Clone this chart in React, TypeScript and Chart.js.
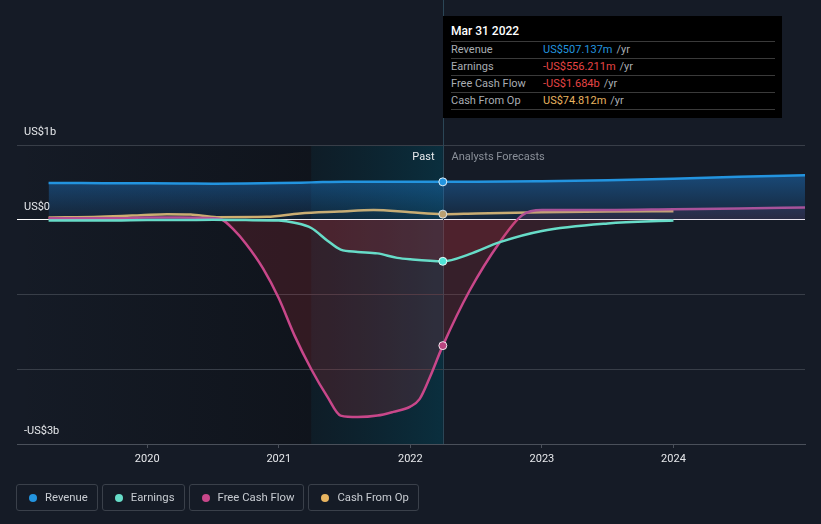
import { useEffect, useRef } from "react";
import { Chart, registerables } from "chart.js";

Chart.register(...registerables);

const BOUNDARY = 2022.247;
const HIGHLIGHT_START = 2021.247;

const revenueYears = [2019.25, 2019.5, 2019.75, 2020.0, 2020.25, 2020.5, 2020.75, 2021.0, 2021.25, 2021.5, 2021.75, 2022.0, 2022.247, 2022.5, 2023.0, 2023.5, 2024.0, 2024.5, 2025.0];
const revenueValues = [0.49, 0.49, 0.489, 0.488, 0.486, 0.482, 0.484, 0.49, 0.5, 0.51, 0.51, 0.51, 0.507, 0.507, 0.515, 0.53, 0.55, 0.575, 0.595];

const earningsYears = [2019.25, 2019.5, 2019.75, 2020.0, 2020.25, 2020.5, 2020.75, 2021.0, 2021.12, 2021.247, 2021.37, 2021.47, 2021.6, 2021.75, 2021.9, 2022.0, 2022.247, 2022.45, 2022.68, 2023.0, 2023.5, 2024.0];
const earningsValues = [-0.01, -0.01, -0.01, -0.005, -0.005, 0.0, -0.005, -0.01, -0.04, -0.11, -0.28, -0.4, -0.43, -0.45, -0.51, -0.53, -0.556, -0.46, -0.3, -0.15, -0.05, -0.01];

const fcfYears = [2019.25, 2019.75, 2020.0, 2020.25, 2020.5, 2020.57, 2020.65, 2020.75, 2020.88, 2021.0, 2021.12, 2021.247, 2021.37, 2021.47, 2021.6, 2021.75, 2021.87, 2022.0, 2022.07, 2022.15, 2022.247, 2022.45, 2022.68, 2022.85, 2023.0, 2023.5, 2024.0, 2024.5, 2025.0];
const fcfValues = [0.02, 0.02, 0.03, 0.03, 0.02, 0.0, -0.12, -0.32, -0.65, -1.05, -1.55, -2.0, -2.37, -2.62, -2.64, -2.62, -2.57, -2.5, -2.4, -2.1, -1.684, -0.95, -0.3, 0.06, 0.13, 0.13, 0.14, 0.15, 0.165];

const cfoYears = [2019.25, 2019.64, 2019.95, 2020.15, 2020.33, 2020.53, 2020.91, 2021.16, 2021.46, 2021.72, 2022.0, 2022.247, 2022.5, 2023.0, 2023.5, 2024.0];
const cfoValues = [0.03, 0.04, 0.06, 0.075, 0.07, 0.035, 0.04, 0.085, 0.11, 0.13, 0.1, 0.075, 0.085, 0.1, 0.11, 0.115];

const xTicks = [2020, 2021, 2022, 2023, 2024];
const yLabels: Record<number, string> = { 1: "US$1b", 0: "US$0", [-3]: "-US$3b" };

const legendItems = [
  { label: "Revenue", color: "#2394df" },
  { label: "Earnings", color: "#67dcc8" },
  { label: "Free Cash Flow", color: "#c8478a" },
  { label: "Cash From Op", color: "#e8b460" },
];

const tooltipRows = [
  { label: "Revenue", value: "US$507.137m", color: "#2394df" },
  { label: "Earnings", value: "-US$556.211m", color: "#e64545" },
  { label: "Free Cash Flow", value: "-US$1.684b", color: "#e64545" },
  { label: "Cash From Op", value: "US$74.812m", color: "#e8b460" },
];

const FONT = "Roboto, 'Noto Sans', sans-serif";

function pts(xs: number[], ys: number[]) {
  return xs.map((x, i) => ({ x, y: ys[i] }));
}

const pointR = (c: any) => (c.raw && Math.abs(c.raw.x - BOUNDARY) < 1e-6 ? 4 : 0);

const bgPlugin = {
  id: "bgPlugin",
  beforeDraw(chart: any) {
    const { ctx, chartArea: a, scales } = chart;
    const xs = scales.x;
    ctx.save();
    ctx.fillStyle = "#151b26";
    ctx.fillRect(0, 0, chart.width, chart.height);
    const hx0 = xs.getPixelForValue(HIGHLIGHT_START);
    const bx = xs.getPixelForValue(BOUNDARY);
    let g = ctx.createLinearGradient(a.left, 0, hx0, 0);
    g.addColorStop(0, "rgba(10,13,18,0)");
    g.addColorStop(1, "rgba(10,13,18,0.5)");
    ctx.fillStyle = g;
    ctx.fillRect(a.left, a.top, hx0 - a.left, a.bottom - a.top);
    g = ctx.createLinearGradient(hx0, 0, bx, 0);
    g.addColorStop(0, "rgba(10,30,40,0.6)");
    g.addColorStop(1, "rgba(8,50,66,0.85)");
    ctx.fillStyle = g;
    ctx.fillRect(hx0, a.top, bx - hx0, a.bottom - a.top);
    ctx.restore();
  },
  beforeDatasetsDraw(chart: any) {
    const { ctx, chartArea: a, scales } = chart;
    const bx = Math.round(scales.x.getPixelForValue(BOUNDARY)) + 0.5;
    ctx.save();
    ctx.strokeStyle = "#2b4656";
    ctx.lineWidth = 1;
    ctx.beginPath();
    ctx.moveTo(bx, 0);
    ctx.lineTo(bx, a.bottom);
    ctx.stroke();
    ctx.font = `11px ${FONT}`;
    ctx.textBaseline = "middle";
    ctx.textAlign = "right";
    ctx.fillStyle = "#e8eaed";
    ctx.fillText("Past", bx - 9, a.top + 12);
    ctx.textAlign = "left";
    ctx.fillStyle = "#8a9099";
    ctx.fillText("Analysts Forecasts", bx + 8, a.top + 12);
    ctx.restore();
  },
};

export default function App() {
  const ref = useRef<HTMLCanvasElement | null>(null);

  useEffect(() => {
    if (!ref.current) return;
    const revGrad = (c: any) => {
      const ch = c.chart;
      const a = ch.chartArea;
      if (!a) return "rgba(33,150,243,0.2)";
      const y = ch.scales.y;
      const g = ch.ctx.createLinearGradient(0, y.getPixelForValue(0.55), 0, y.getPixelForValue(0));
      g.addColorStop(0, "rgba(30,130,220,0.42)");
      g.addColorStop(1, "rgba(30,130,220,0.1)");
      return g;
    };
    const chart = new Chart(ref.current, {
      type: "line",
      data: {
        datasets: [
          {
            label: "Revenue",
            data: pts(revenueYears, revenueValues),
            borderColor: "#2394df",
            borderWidth: 2.5,
            backgroundColor: revGrad,
            fill: "origin",
            cubicInterpolationMode: "monotone",
            pointRadius: pointR,
            pointBackgroundColor: "#2394df",
            pointBorderColor: "rgba(255,255,255,0.85)",
            pointBorderWidth: 1,
          },
          {
            label: "Earnings",
            data: pts(earningsYears, earningsValues),
            borderColor: "#67dcc8",
            borderWidth: 2.5,
            fill: { target: "origin", above: "rgba(0,0,0,0)", below: "rgba(190,50,60,0.18)" },
            cubicInterpolationMode: "monotone",
            pointRadius: pointR,
            pointBackgroundColor: "#4fe3d6",
            pointBorderColor: "rgba(255,255,255,0.85)",
            pointBorderWidth: 1,
          },
          {
            label: "Free Cash Flow",
            data: pts(fcfYears, fcfValues),
            borderColor: "#c8478a",
            borderWidth: 2.5,
            fill: { target: "origin", above: "rgba(200,70,140,0.12)", below: "rgba(190,50,60,0.2)" },
            cubicInterpolationMode: "monotone",
            pointRadius: pointR,
            pointBackgroundColor: "#b8447f",
            pointBorderColor: "rgba(255,255,255,0.85)",
            pointBorderWidth: 1,
          },
          {
            label: "Cash From Op",
            data: pts(cfoYears, cfoValues),
            borderColor: "#e8b460",
            borderWidth: 2.5,
            fill: false,
            cubicInterpolationMode: "monotone",
            pointRadius: pointR,
            pointBackgroundColor: "#d4a560",
            pointBorderColor: "rgba(255,255,255,0.85)",
            pointBorderWidth: 1,
          },
        ],
      },
      options: {
        animation: false,
        responsive: false,
        events: [],
        layout: { padding: { left: 17, right: 16, top: 145, bottom: 50 } },
        plugins: { legend: { display: false }, tooltip: { enabled: false } },
        scales: {
          x: {
            type: "linear",
            min: 2019.01,
            max: 2025.0,
            afterFit: (s: any) => {
              s.height = 30;
            },
            afterBuildTicks: (s: any) => {
              s.ticks = xTicks.map((v) => ({ value: v }));
            },
            ticks: {
              color: "#e6e8eb",
              font: { size: 11, family: FONT },
              padding: 5,
              maxRotation: 0,
              callback: (v: any) => String(v),
            },
            grid: { drawOnChartArea: false, drawTicks: true, tickLength: 4, color: "#4a505a" },
            border: { color: "#4a505a", width: 1 },
          },
          y: {
            type: "linear",
            min: -3,
            max: 1,
            afterFit: (s: any) => {
              s.width = 0;
            },
            ticks: {
              stepSize: 1,
              mirror: true,
              padding: 7,
              labelOffset: -13,
              color: "#e6e8eb",
              font: { size: 11, family: FONT },
              callback: (v: any) => yLabels[v] ?? "",
            },
            grid: {
              drawTicks: false,
              color: (c: any) => (c.tick && c.tick.value === 0 ? "#ffffff" : "#383e48"),
              lineWidth: 1,
            },
            border: { display: false },
          },
        },
      },
      plugins: [bgPlugin],
    } as any);
    return () => chart.destroy();
  }, []);

  return (
    <div style={{ position: "absolute", left: 0, top: 0, width: 821, height: 524, background: "#151b26", fontFamily: FONT, overflow: "hidden" }}>
      <canvas ref={ref} width={821} height={524} style={{ position: "absolute", left: 0, top: 0, width: 821, height: 524 }} />
      <div
        style={{
          position: "absolute",
          left: 443,
          top: 16,
          width: 339,
          height: 102,
          background: "#000000",
          boxSizing: "border-box",
          padding: "8px 7px 0 8px",
        }}
      >
        <div style={{ color: "#ffffff", fontSize: 12, lineHeight: "15px", height: 17, fontWeight: 500 }}>Mar 31 2022</div>
        {tooltipRows.map((r, i) => (
          <div
            key={r.label}
            style={{
              display: "flex",
              borderTop: "1px solid #3a3a3a",
              borderBottom: i === tooltipRows.length - 1 ? "1px solid #3a3a3a" : "none",
              height: 16,
              lineHeight: "16px",
              fontSize: 11,
            }}
          >
            <span style={{ width: 92, color: "#a9adb3" }}>{r.label}</span>
            <span style={{ color: r.color }}>{r.value}</span>
            <span style={{ color: "#a9adb3", marginLeft: 4 }}>/yr</span>
          </div>
        ))}
      </div>
      <div style={{ position: "absolute", left: 16, top: 484, display: "flex", gap: 4 }}>
        {legendItems.map((it) => (
          <div
            key={it.label}
            style={{
              height: 27,
              boxSizing: "border-box",
              border: "1px solid #3a404a",
              borderRadius: 3,
              display: "flex",
              alignItems: "center",
              padding: "0 9px 0 12px",
              fontSize: 11.3,
              color: "#c8ccd2",
            }}
          >
            <span style={{ width: 8, height: 8, borderRadius: 4, background: it.color, marginRight: 8, display: "inline-block", flex: "none" }} />
            <span>{it.label}</span>
          </div>
        ))}
      </div>
    </div>
  );
}
